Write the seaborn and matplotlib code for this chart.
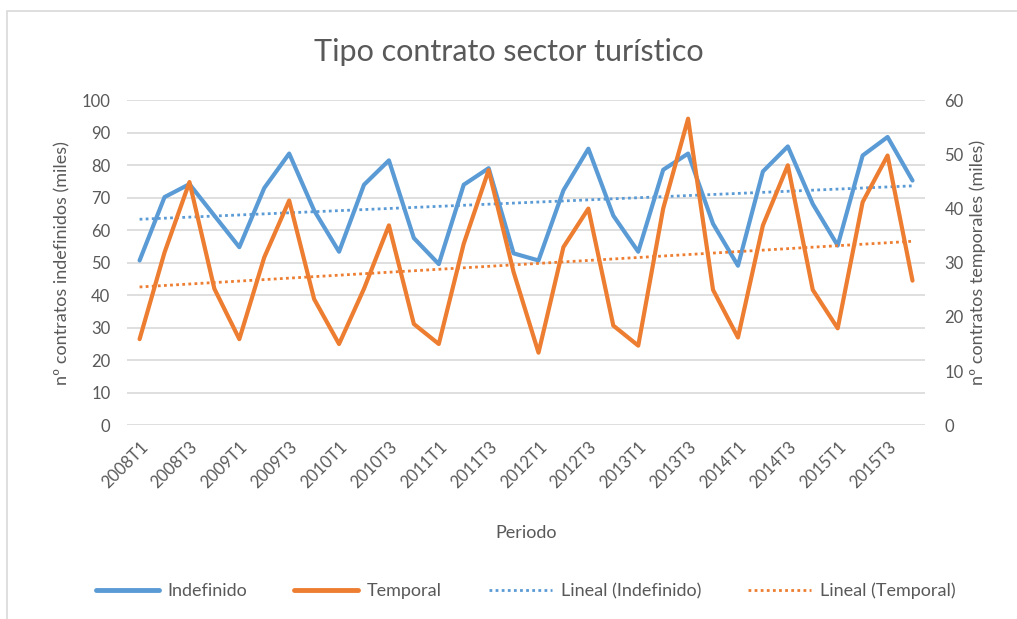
import numpy as np
import pandas as pd
import matplotlib
matplotlib.use('Agg')
import matplotlib.pyplot as plt
import seaborn as sns
from matplotlib.lines import Line2D
from matplotlib.patches import Rectangle

# Quarterly periods 2008T1 .. 2015T4
years = list(range(2008, 2016))
periods = [f"{y}T{q}" for y in years for q in range(1, 5)]

# nº contratos indefinidos (miles), left axis
indefinido = [50.7, 70.2, 74.2, 64.5, 54.8, 73.0, 83.6, 66.1,
              53.4, 74.0, 81.5, 57.6, 49.6, 74.0, 79.1, 52.9,
              50.7, 72.3, 85.1, 64.5, 53.4, 78.6, 83.6, 62.0,
              49.1, 78.1, 85.8, 68.1, 55.3, 83.0, 88.7, 75.3]

# nº contratos temporales (miles), right axis
temporal = [15.9, 31.9, 44.9, 25.2, 15.9, 31.0, 41.5, 23.3,
            15.0, 25.2, 36.9, 18.7, 15.0, 33.5, 47.1, 28.3,
            13.4, 32.9, 40.0, 18.4, 14.7, 40.0, 56.6, 25.0,
            16.2, 36.9, 48.0, 25.0, 17.9, 41.2, 49.8, 26.7]

BLUE = '#5B9BD5'
ORANGE = '#ED7D31'
GRID = '#D9D9D9'
TXT = '#595959'

df = pd.DataFrame({'periodo': periods, 'indefinido': indefinido, 'temporal': temporal})
df['x'] = np.arange(len(df))

# linear trend lines (like Excel "Lineal")
p_ind = np.polyfit(df['x'], df['indefinido'], 1)
p_tem = np.polyfit(df['x'], df['temporal'], 1)
df['trend_ind'] = np.polyval(p_ind, df['x'])
df['trend_tem'] = np.polyval(p_tem, df['x'])

sns.set_theme(style='white')
plt.rcParams['font.family'] = ['Lato', 'DejaVu Sans']

fig = plt.figure(figsize=(10.17, 6.19), dpi=100)
ax = fig.add_axes([0.125, 0.313, 0.7845, 0.525])
ax2 = ax.twinx()

# chart border
fig.patches.append(Rectangle((7 / 1017, -0.1), 1.2, (619 - 11) / 619 + 0.1,
                             transform=fig.transFigure, fill=False,
                             edgecolor='#D9D9D9', lw=1.2))

sns.lineplot(data=df, x='x', y='indefinido', ax=ax, color=BLUE, lw=3, zorder=3)
sns.lineplot(data=df, x='x', y='trend_ind', ax=ax, color=BLUE, lw=2, ls=(0, (1, 1.2)), zorder=2)
sns.lineplot(data=df, x='x', y='temporal', ax=ax2, color=ORANGE, lw=3, zorder=3)
sns.lineplot(data=df, x='x', y='trend_tem', ax=ax2, color=ORANGE, lw=2, ls=(0, (1, 1.2)), zorder=2)

ax.set_xlim(-0.5, len(df) - 0.5)
ax.set_ylim(0, 100)
ax2.set_ylim(0, 60)
ax.set_yticks(range(0, 101, 10))
ax2.set_yticks(range(0, 61, 10))
ax.yaxis.grid(True, color=GRID, lw=1.2)
ax.set_axisbelow(True)

ax.set_xticks(df['x'][::2])
ax.set_xticklabels(df['periodo'][::2], rotation=45, ha='right', rotation_mode='anchor')

for a in (ax, ax2):
    for s in a.spines.values():
        s.set_visible(False)
    a.tick_params(length=0, colors=TXT, labelsize=12)

ax.tick_params(axis='x', pad=10)
ax.tick_params(axis='y', pad=12)
ax2.tick_params(axis='y', pad=14)

ax.set_xlabel('Periodo', fontsize=13, color=TXT, labelpad=24)
ax.set_ylabel('nº contratos indefinidos (miles)', fontsize=13, color=TXT, labelpad=8)
ax2.set_ylabel('nº contratos temporales (miles)', fontsize=13, color=TXT, labelpad=4)

fig.suptitle('Tipo contrato sector turístico', fontsize=22, color=TXT, y=0.916, va='center')

handles = [
    Line2D([], [], color=BLUE, lw=3.5),
    Line2D([], [], color=ORANGE, lw=3.5),
    Line2D([], [], color=BLUE, lw=2, ls=(0, (1, 1.2))),
    Line2D([], [], color=ORANGE, lw=2, ls=(0, (1, 1.2))),
]
labels = ['Indefinido', 'Temporal', 'Lineal (Indefinido)', 'Lineal (Temporal)']
leg = fig.legend(handles, labels, loc='center', bbox_to_anchor=(0.517, 0.045), ncol=4,
                 frameon=False, fontsize=13, handlelength=3.5, handletextpad=0.5,
                 columnspacing=2.6)
for t in leg.get_texts():
    t.set_color(TXT)

fig.savefig('out.png', dpi=100)
